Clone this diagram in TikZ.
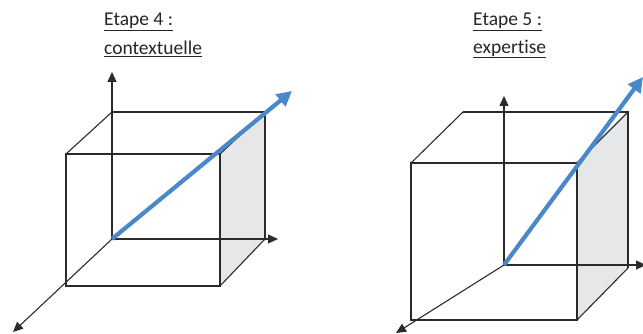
\documentclass[tikz,border=0pt]{standalone}
\usepackage{fontspec}
\setmainfont[Ligatures={NoCommon}]{Carlito}
\usetikzlibrary{arrows.meta}
\definecolor{edgecol}{HTML}{2B2B2B}
\definecolor{facegray}{HTML}{E6E7E8}
\definecolor{bluearrow}{HTML}{4A88CA}
\tikzset{
  edgeline/.style={draw=edgecol, line width=1.1pt},
  axisline/.style={draw=edgecol, line width=1.1pt, -{Triangle[length=10pt,width=9pt]}},
  bluevec/.style={draw=bluearrow, line width=4.2pt, -{Triangle[length=15pt,width=15pt]}},
  title/.style={font=\fontsize{19.5}{22}\selectfont, text=black!85, anchor=west, inner sep=0pt}
}
\begin{document}
\begin{tikzpicture}[x=1pt,y=-1pt]
\useasboundingbox (0,0) rectangle (643,334);
% ---------- left: Etape 4
\node[title] (t4a) at (104,22) {\underline{Etape 4 :}};
\node[title] (t4b) at (104,49) {\underline{contextuelle}};
\coordinate (O4) at (112,239);
\coordinate (B4tl) at (112,112);
\coordinate (B4tr) at (265,112);
\coordinate (B4br) at (265,239);
\coordinate (F4tl) at (66,154);
\coordinate (F4tr) at (220,154);
\coordinate (F4br) at (220,286);
\coordinate (F4bl) at (66,286);
\coordinate (Y4) at (112,72);
\coordinate (X4) at (278,239);
\coordinate (Z4) at (13,332);
\coordinate (V4) at (292,91);
\fill[facegray] (F4tr) -- (B4tr) -- (B4br) -- (F4br) -- cycle;
\draw[edgeline] (B4tl) -- (B4tr) -- (B4br);
\draw[edgeline] (F4tl) -- (F4tr) -- (F4br) -- (F4bl) -- cycle;
\draw[edgeline] (F4tl) -- (B4tl);
\draw[edgeline] (F4tr) -- (B4tr);
\draw[edgeline] (F4br) -- (B4br);
\draw[axisline] (O4) -- (Y4);
\draw[axisline] (O4) -- (X4);
\draw[axisline] (O4) -- (Z4);
\draw[bluevec] (O4) -- (V4);
% ---------- right: Etape 5
\node[title] (t5a) at (473,22) {\underline{Etape 5 :}};
\node[title] (t5b) at (473,49) {\underline{expertise}};
\coordinate (O5) at (504,265);
\coordinate (B5tl) at (463,112);
\coordinate (B5tr) at (628,112);
\coordinate (B5br) at (628,268);
\coordinate (F5tl) at (411,163);
\coordinate (F5tr) at (577,163);
\coordinate (F5br) at (577,320);
\coordinate (F5bl) at (411,320);
\coordinate (Y5) at (504,96);
\coordinate (X5) at (646,265);
\coordinate (Z5) at (396,333);
\coordinate (V5) at (643,77);
\fill[facegray] (F5tr) -- (B5tr) -- (B5br) -- (F5br) -- cycle;
\draw[edgeline] (B5tl) -- (B5tr) -- (B5br);
\draw[edgeline] (F5tl) -- (F5tr) -- (F5br) -- (F5bl) -- cycle;
\draw[edgeline] (F5tl) -- (B5tl);
\draw[edgeline] (F5tr) -- (B5tr);
\draw[edgeline] (F5br) -- (B5br);
\draw[axisline] (O5) -- (Y5);
\draw[axisline] (O5) -- (X5);
\draw[axisline] (O5) -- (Z5);
\draw[bluevec] (O5) -- (V5);
\end{tikzpicture}
\end{document}
